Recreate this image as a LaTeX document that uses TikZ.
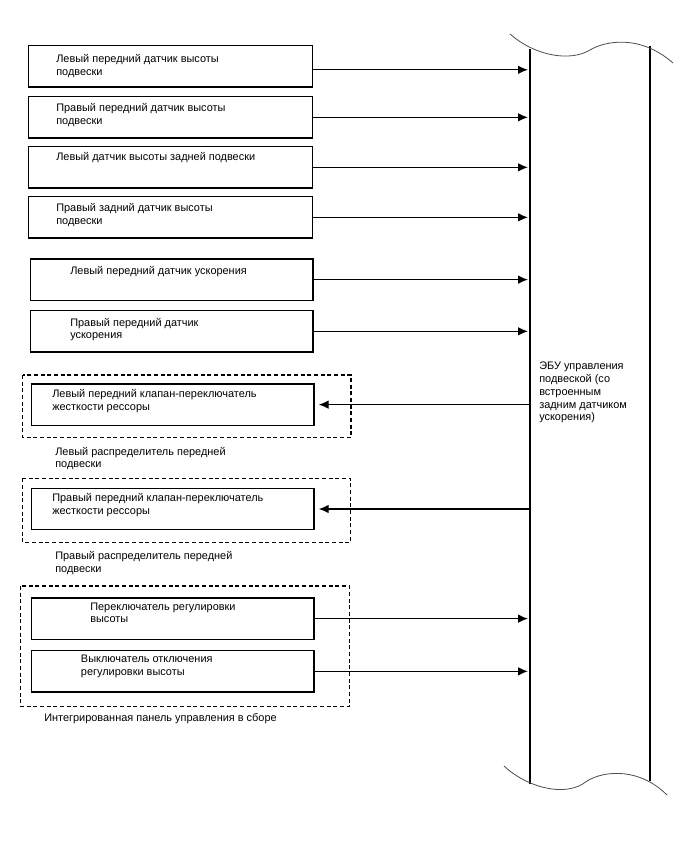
\documentclass[tikz,border=0pt]{standalone}
\usepackage{fontspec}
\setmainfont{Liberation Sans}
\usetikzlibrary{arrows.meta}

\begin{document}
\begin{tikzpicture}[x=0.75pt,y=-0.75pt,
		sensorbox/.style={draw,line width=1pt,anchor=north west,inner sep=0pt,minimum width=#1,minimum height=31pt},
		sensorbox/.default=213pt,
		txt/.style={anchor=north west,inner sep=0pt,align=left,font=\fontsize{8.2}{9.6}\selectfont},
		groupframe/.style={draw,line width=0.8pt,dash pattern=on 3pt off 2pt},
		arr/.style={line width=1pt,-{Latex[length=7.5pt,width=6.5pt]}}]
	\useasboundingbox (0,0) rectangle (688,852);
	%
	\foreach \n/\x/\y in {lfh/28/45,rfh/28/96,lrh/28/146,rrh/28/196}
		\node [sensorbox] (\n) at (\x,\y) {};
	\foreach \n/\x/\y in {lfa/29.5/258.3,rfa/29.5/310,lfv/30.7/383.3,rfv/30.7/487.7,hsw/30.7/597.3,hoff/30.7/650}
		\node [sensorbox=212pt] (\n) at (\x,\y) {};
	%
	\node [txt] (lfh-t) at (56,54.3) {Левый передний датчик высоты\\подвески};
	\node [txt] (rfh-t) at (56,103.3) {Правый передний датчик высоты\\подвески};
	\node [txt] (lrh-t) at (56,152.3) {Левый датчик высоты задней подвески};
	\node [txt] (rrh-t) at (56,203.3) {Правый задний датчик высоты\\подвески};
	\node [txt] (lfa-t) at (70,265.7) {Левый передний датчик ускорения};
	\node [txt] (rfa-t) at (70,317.7) {Правый передний датчик\\ускорения};
	\node [txt] (lfv-t) at (52,389) {Левый передний клапан-переключатель\\жесткости рессоры};
	\node [txt] (rfv-t) at (52,493.4) {Правый передний клапан-переключатель\\жесткости рессоры};
	\node [txt] (hsw-t) at (90,602.3) {Переключатель регулировки\\высоты};
	\node [txt] (hoff-t) at (80.7,655) {Выключатель отключения\\регулировки высоты};
	%
	\draw [groupframe] (22.7,375) rectangle (351,437.7);
	\draw [groupframe] (22.7,478.3) rectangle (350.3,542.3);
	\draw [groupframe] (20.7,586) rectangle (349.3,706.7);
	\node [txt] (lfd-t) at (55,446.7) {Левый распределитель передней\\подвески};
	\node [txt] (rfd-t) at (55,551.3) {Правый распределитель передней\\подвески};
	\node [txt] (panel-t) at (44,713) {Интегрированная панель управления в сборе};
	%
	\coordinate (ecu-w) at (528,0);
	\coordinate (ecu-e) at (530,0);
	\draw [line width=1pt] (530,49) -- (530,784);
	\draw [line width=1pt] (650,46) -- (650,781);
	\draw [line width=0.6pt,gray!60!black] (510,34) .. controls (535,56) and (570,62) .. (590,50) .. controls (605,41) and (640,34) .. (673,63);
	\draw [line width=0.6pt,gray!60!black] (504,766) .. controls (525,786) and (565,799) .. (587,781) .. controls (605,770) and (640,768) .. (667,795);
	\node [txt] (ecu-t) at (539,361.7) {ЭБУ управления\\подвеской (со\\встроенным\\задним датчиком\\ускорения)};
	%
	\draw [arr] ([yshift=-2.6pt]lfh.east) -- ([yshift=-2.6pt]lfh.east -| ecu-w);
	\foreach \n in {rfh,lrh,rrh,lfa,rfa,hsw,hoff}
		\draw [arr] (\n.east) -- (\n.east -| ecu-w);
	\foreach \n in {lfv,rfv}
		\draw [arr] (\n.east -| ecu-e) -- ([xshift=3pt]\n.east);
\end{tikzpicture}
\end{document}
